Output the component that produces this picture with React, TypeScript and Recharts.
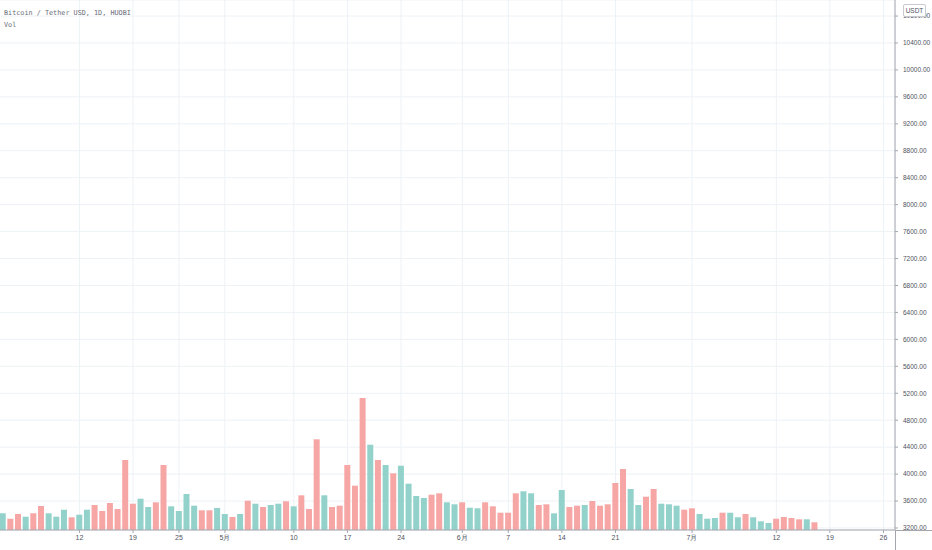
import { Bar, CartesianGrid, Cell, ComposedChart, XAxis, YAxis } from "recharts"

// one row per calendar day, Apr 2 2019 .. Jul 27 2019 (bars stop at Jul 17)
const firstDay = Date.UTC(2019, 3, 2)
const dayCount = 117
const dates: string[] = []
for (let i = 0; i < dayCount; i++) {
  const d = new Date(firstDay + i * 86400000)
  dates.push(`${String(d.getUTCMonth() + 1).padStart(2, "0")}-${String(d.getUTCDate()).padStart(2, "0")}`)
}

// daily volume (K)
const volumes = [
  16.7, 11.3, 16, 13.3, 16.7, 24, 16.7, 13.3, 20.3, 12.7,
  15.3, 20.3, 25, 19, 27, 21, 70, 26.3, 31.3, 23,
  27.7, 65, 23.7, 19, 36, 24.3, 19.7, 19.7, 22, 16,
  13, 16, 29.3, 26.3, 23, 25, 26.3, 28.7, 23.7, 34.7,
  21, 90.7, 34.7, 23, 24.3, 65, 44.3, 132, 85.3, 70,
  65, 56.7, 64.3, 46.3, 34, 32, 35.3, 36.7, 27.7, 25.7,
  27.7, 22.3, 21.7, 27.7, 23.7, 17.3, 17.3, 36.7, 38.7, 36.7,
  25, 25.7, 16.7, 40, 23, 24.3, 25, 29, 24.3, 25.7,
  47, 61, 41, 25, 33.3, 41, 26.3, 25.7, 24.3, 20.3,
  21.7, 16, 11.3, 12, 17.3, 17.3, 12.7, 16, 12.7, 8.7,
  7, 11.3, 13, 12, 10.7, 10.7, 7.7,
]

// 1 = close above open (teal), 0 = close below open (red)
const upDays = [
  1, 0, 0, 1, 0, 0, 1, 1, 1, 0,
  1, 1, 0, 0, 0, 0, 0, 0, 1, 1,
  0, 0, 1, 1, 1, 1, 0, 0, 1, 1,
  0, 1, 0, 1, 0, 1, 1, 0, 1, 0,
  0, 0, 1, 0, 0, 0, 0, 0, 1, 0,
  1, 0, 1, 1, 1, 1, 0, 0, 1, 1,
  0, 1, 1, 0, 0, 0, 0, 0, 1, 1,
  0, 0, 1, 1, 0, 0, 1, 0, 0, 0,
  0, 0, 1, 1, 0, 0, 1, 1, 1, 0,
  0, 1, 1, 1, 0, 1, 1, 0, 1, 1,
  1, 0, 0, 0, 0, 1, 0,
]

const tickDates = ["04-12", "04-19", "04-25", "05-01", "05-10", "05-17", "05-24", "06-01", "06-07", "06-14", "06-21", "07-01", "07-12", "07-19", "07-26"]
const tickLabels = ["12", "19", "25", "5月", "10", "17", "24", "6月", "7", "14", "21", "7月", "12", "19", "26"]

const priceTicks = [3200, 3600, 4000, 4400, 4800, 5200, 5600, 6000, 6400, 6800, 7200, 7600, 8000, 8400, 8800, 9200, 9600, 10000, 10400, 10800]

const data = dates.map((date, i) => ({
  date,
  vol: i < volumes.length ? volumes[i] : null,
}))

const UP = "#92d2cb"
const DOWN = "#f6a6a4"
const GRID = "#edf2f6"
const AXIS = "#a3a6ad"
const TEXT = "#50535e"

export default function App() {
  return (
    <div style={{ position: "absolute", left: 0, top: 0, width: 932, height: 550, background: "#fff" }}>
      <ComposedChart width={932} height={550} data={data} margin={{ top: 0, right: 0, bottom: 0, left: -1 }} barCategoryGap="9%">
        <CartesianGrid yAxisId="price" stroke={GRID} strokeWidth={1} />
        <XAxis
          dataKey="date"
          ticks={tickDates}
          interval={0}
          tickFormatter={(v) => tickLabels[tickDates.indexOf(v)] ?? ""}
          height={20}
          tickSize={3}
          tickMargin={2}
          stroke={AXIS}
          tick={{ fill: TEXT, fontSize: 7, fontFamily: "Liberation Sans" }}
        />
        <YAxis yAxisId="vol" hide domain={[0, 530]} />
        <YAxis
          yAxisId="price"
          orientation="right"
          type="number"
          domain={[3170, 11038]}
          ticks={priceTicks}
          allowDataOverflow
          width={37}
          tickSize={3}
          tickMargin={5}
          stroke={AXIS}
          tickFormatter={(v) => Number(v).toFixed(2)}
          tick={{ fill: TEXT, fontSize: 6.5, fontFamily: "Liberation Sans", textAnchor: "start" }}
        />
        <Bar yAxisId="vol" dataKey="vol" isAnimationActive={false}>
          {data.map((_, i) => (
            <Cell key={i} fill={upDays[i] ? UP : DOWN} />
          ))}
        </Bar>
      </ComposedChart>
      <div style={{ position: "absolute", left: 895, top: 530, width: 37, height: 1, background: AXIS }} />
      <div style={{ position: "absolute", left: 894.5, top: 530, width: 1, height: 20, background: AXIS }} />
      <div
        style={{
          position: "absolute", left: 903, top: 4, width: 21, height: 11, border: "1px solid #c8cad0", borderRadius: 2,
          background: "#fff", color: TEXT, fontSize: 6.5, fontFamily: "Liberation Sans", lineHeight: "11px", textAlign: "center",
        }}
      >
        USDT
      </div>
      <div style={{ position: "absolute", left: 4, top: 9, color: "#6a6d78", fontSize: 6.8, fontFamily: "DejaVu Sans Mono", lineHeight: "8px" }}>
        Bitcoin / Tether USD, 1D, HUOBI
      </div>
      <div style={{ position: "absolute", left: 4, top: 21, color: "#6a6d78", fontSize: 6.8, fontFamily: "DejaVu Sans Mono", lineHeight: "8px" }}>
        Vol
      </div>
    </div>
  )
}
